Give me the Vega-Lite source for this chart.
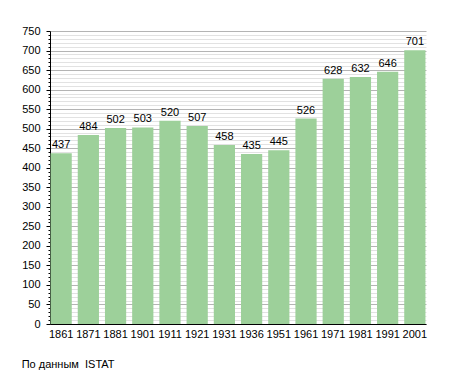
{
  "$schema": "https://vega.github.io/schema/vega-lite/v6.json",
  "width": 376,
  "height": 293,
  "autosize": "none",
  "padding": {"left": 50, "top": 31, "right": 29, "bottom": 49},
  "background": "white",
  "config": {"view": {"stroke": null}, "font": "Liberation Sans"},
  "title": {"text": "По данным\u00a0 ISTAT", "orient": "bottom", "anchor": "start", "dx": 0, "offset": 20, "fontSize": 11, "fontWeight": "normal", "font": "Liberation Sans", "color": "#000"},
  "data": {"values": [
    {"year": "1861", "pop": 437},
    {"year": "1871", "pop": 484},
    {"year": "1881", "pop": 502},
    {"year": "1901", "pop": 503},
    {"year": "1911", "pop": 520},
    {"year": "1921", "pop": 507},
    {"year": "1931", "pop": 458},
    {"year": "1936", "pop": 435},
    {"year": "1951", "pop": 445},
    {"year": "1961", "pop": 526},
    {"year": "1971", "pop": 628},
    {"year": "1981", "pop": 632},
    {"year": "1991", "pop": 646},
    {"year": "2001", "pop": 701}
  ]},
  "encoding": {
    "x": {"field": "year", "type": "ordinal", "sort": null,
      "scale": {"paddingInner": 0.22, "paddingOuter": 0.02},
      "axis": {"title": null, "labelAngle": 0, "ticks": false, "domainColor": "#000", "labelFontSize": 11, "labelColor": "#000", "labelPadding": 4}},
    "y": {"field": "pop", "type": "quantitative",
      "scale": {"domain": [0, 750], "nice": false},
      "axis": {"title": null,
        "values": [0,10,20,30,40,50,60,70,80,90,100,110,120,130,140,150,160,170,180,190,200,210,220,230,240,250,260,270,280,290,300,310,320,330,340,350,360,370,380,390,400,410,420,430,440,450,460,470,480,490,500,510,520,530,540,550,560,570,580,590,600,610,620,630,640,650,660,670,680,690,700,710,720,730,740,750],
        "labelExpr": "datum.value % 50 === 0 ? datum.label : ''",
        "labelFontSize": 11, "labelColor": "#000", "labelPadding": 6,
        "domainColor": "#000", "tickColor": "#000",
        "tickSize": {"condition": {"test": "datum.value % 50 === 0", "value": 4}, "value": 2},
        "gridColor": {"condition": {"test": "datum.value % 50 === 0", "value": "#b4b4b4"}, "value": "#e2e2e2"},
        "grid": true, "labelFlush": false}}
  },
  "layer": [
    {"mark": {"type": "bar", "color": "#9dd09a"}},
    {"mark": {"type": "text", "baseline": "bottom", "dy": -3, "fontSize": 11, "color": "#000"},
      "encoding": {"text": {"field": "pop", "type": "quantitative"}}}
  ]
}
